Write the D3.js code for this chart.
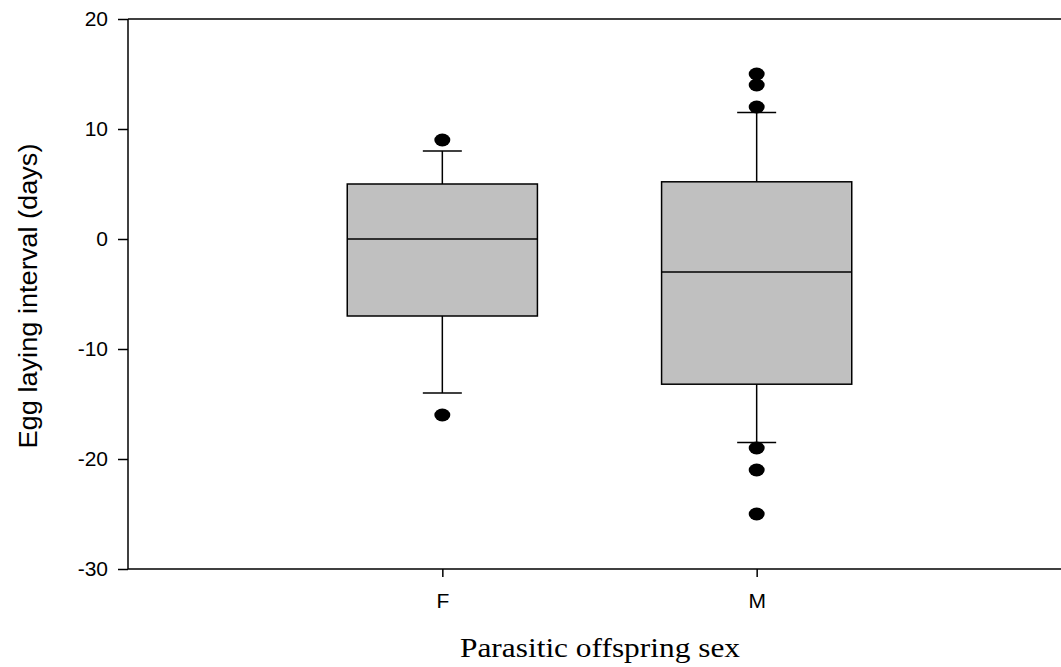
<!DOCTYPE html>
<html>
<head>
<meta charset="utf-8">
<script src="https://cdn.jsdelivr.net/npm/d3@7"></script>
<style>
  html, body { margin: 0; padding: 0; background: #fff; }
  svg { display: block; }
</style>
</head>
<body>
<svg id="chart" width="1061" height="667"></svg>
<script>
// ---- data ----
const categories = ["F", "M"];
const q1 = [-7, -13.2];
const medians = [0, -3];
const q3 = [5, 5.2];
const whiskerLow = [-14, -18.5];
const whiskerHigh = [8, 11.5];
const outliers = [[9, -16], [15, 14, 12, -19, -21, -25]];
const yTicks = [-30, -20, -10, 0, 10, 20];
const yLabel = "Egg laying interval (days)";
const xLabel = "Parasitic offspring sex";

// ---- layout ----
const svg = d3.select("#chart");
const plotLeft = 128, plotTop = 19, plotBottom = 569, plotRightEnd = 1071;

const x = d3.scalePoint().domain(categories).range([plotLeft, plotRightEnd]).padding(1);
const y = d3.scaleLinear().domain([-30, 20]).range([plotBottom, plotTop]);
const boxW = x.step() * 0.605;
const capW = 39;

// axes
const yAxis = d3.axisLeft(y).tickValues(yTicks).tickSize(10).tickPadding(10).tickFormat(d => String(d));
const gy = svg.append("g").attr("transform", `translate(${plotLeft},0)`).call(yAxis);
gy.select(".domain").remove();
gy.selectAll(".tick line").attr("stroke", "#000").attr("stroke-width", 1.5);
gy.selectAll(".tick text").attr("font-family", "Liberation Sans, Arial, sans-serif").attr("font-size", 21).attr("fill", "#000");

const xAxis = d3.axisBottom(x).tickSize(8).tickPadding(16);
const gx = svg.append("g").attr("transform", `translate(0,${plotBottom})`).call(xAxis);
gx.select(".domain").remove();
gx.selectAll(".tick line").attr("stroke", "#000").attr("stroke-width", 1.5);
gx.selectAll(".tick text").attr("font-family", "Liberation Sans, Arial, sans-serif").attr("font-size", 21).attr("fill", "#000");

// axis lines
svg.append("line").attr("x1", plotLeft).attr("x2", plotLeft).attr("y1", plotTop).attr("y2", plotBottom)
  .attr("stroke", "#000").attr("stroke-width", 1.5);
svg.append("line").attr("x1", plotLeft).attr("x2", 1061).attr("y1", plotBottom).attr("y2", plotBottom)
  .attr("stroke", "#000").attr("stroke-width", 1.5);
svg.append("line").attr("x1", plotLeft).attr("x2", 1061).attr("y1", plotTop).attr("y2", plotTop)
  .attr("stroke", "#000").attr("stroke-width", 1.5);

// boxes
const data = categories.map((c, i) => ({
  c, q1: q1[i], med: medians[i], q3: q3[i], lo: whiskerLow[i], hi: whiskerHigh[i], out: outliers[i]
}));

const g = svg.append("g");
data.forEach(d => {
  const cx = x(d.c);
  g.append("line").attr("x1", cx).attr("x2", cx).attr("y1", y(d.q3)).attr("y2", y(d.hi))
    .attr("stroke", "#000").attr("stroke-width", 1.5);
  g.append("line").attr("x1", cx).attr("x2", cx).attr("y1", y(d.q1)).attr("y2", y(d.lo))
    .attr("stroke", "#000").attr("stroke-width", 1.5);
  g.append("line").attr("x1", cx - capW / 2).attr("x2", cx + capW / 2).attr("y1", y(d.hi)).attr("y2", y(d.hi))
    .attr("stroke", "#000").attr("stroke-width", 1.5);
  g.append("line").attr("x1", cx - capW / 2).attr("x2", cx + capW / 2).attr("y1", y(d.lo)).attr("y2", y(d.lo))
    .attr("stroke", "#000").attr("stroke-width", 1.5);
  g.append("rect").attr("x", cx - boxW / 2).attr("width", boxW)
    .attr("y", y(d.q3)).attr("height", y(d.q1) - y(d.q3))
    .attr("fill", "#c0c0c0").attr("stroke", "#000").attr("stroke-width", 1.5);
  g.append("line").attr("x1", cx - boxW / 2).attr("x2", cx + boxW / 2).attr("y1", y(d.med)).attr("y2", y(d.med))
    .attr("stroke", "#000").attr("stroke-width", 1.5);
  d.out.forEach(v => {
    g.append("ellipse").attr("cx", cx).attr("cy", y(v)).attr("rx", 8).attr("ry", 6.5).attr("fill", "#000");
  });
});

// axis titles
svg.append("text")
  .attr("transform", `translate(37,296) rotate(-90)`)
  .attr("text-anchor", "middle")
  .attr("font-family", "Liberation Sans, Arial, sans-serif")
  .attr("font-size", 25)
  .attr("textLength", 305)
  .attr("lengthAdjust", "spacingAndGlyphs")
  .attr("fill", "#000")
  .text(yLabel);

svg.append("text")
  .attr("x", 600).attr("y", 657)
  .attr("text-anchor", "middle")
  .attr("font-family", "Liberation Serif, Times New Roman, serif")
  .attr("font-size", 28)
  .attr("textLength", 280)
  .attr("lengthAdjust", "spacingAndGlyphs")
  .attr("fill", "#000")
  .text(xLabel);
</script>
</body>
</html>
